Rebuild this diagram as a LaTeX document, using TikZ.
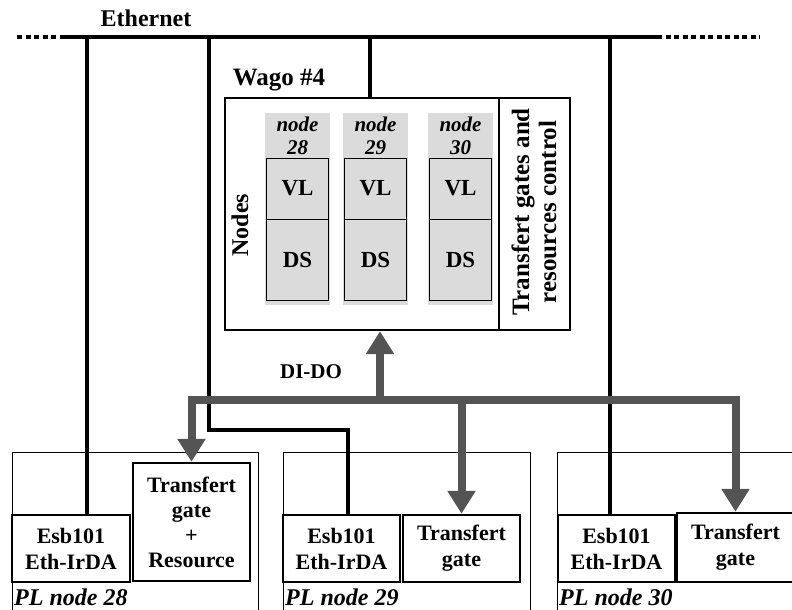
\documentclass[tikz,border=0pt]{standalone}
\usepackage{fontspec}
\setmainfont{Liberation Serif}
\usetikzlibrary{arrows.meta}

\begin{document}
\begin{tikzpicture}[x=1pt,y=-1pt,>={Triangle[width=27pt,length=23pt]},
  txt/.style={font=\fontsize{22}{26}\selectfont\bfseries},
  itx/.style={font=\fontsize{21}{23}\selectfont\bfseries\itshape},
  box/.style={draw,line width=2.5pt,txt,align=center,inner sep=0pt},
  plbox/.style={draw,line width=0.8pt},
  cell/.style={draw,line width=0.8pt,fill=gray!28,inner sep=0pt,
    font=\fontsize{23}{26}\selectfont\bfseries},
  eth/.style={line width=4.5pt},
  bus/.style={line width=8pt,draw=black!67,color=black!67}]
  \useasboundingbox (0,0) rectangle (792,610);

  % Ethernet
  \node[font=\fontsize{24}{28}\selectfont\bfseries] (ethlbl) at (146,18) {Ethernet};
  \coordinate (e0) at (17,37);
  \coordinate (e1) at (65,37);
  \coordinate (e2) at (657,37);
  \coordinate (e3) at (760,37);
  \draw[eth] (e1) -- (e2);
  \draw[eth,dash pattern=on 5pt off 3.5pt] (e0) -- (e1);
  \draw[eth,dash pattern=on 5pt off 3.5pt] (e2) -- (e3);

  % Wago #4
  \node[font=\fontsize{25}{28}\selectfont\bfseries] (wagolbl) at (279,80) {Wago \#4};
  \node[draw,line width=2.3pt,minimum width=345,minimum height=232] (wago) at (397.5,214) {};
  \coordinate (div1) at (499,98);
  \coordinate (div2) at (499,330);
  \draw[line width=2.3pt] (div1) -- (div2);
  \node[font=\fontsize{24}{26}\selectfont\bfseries,rotate=90] (nodes) at (240,225) {Nodes};
  \node[font=\fontsize{25}{27}\selectfont\bfseries,rotate=90,align=center] (ctrl) at (534,212) {Transfert gates and\\resources control};

  % node columns
  \foreach \x/\n in {297.5/28,375.5/29,460.5/30}{
    \fill[gray!28] (\x-32.5,113) rectangle (\x+32.5,305);
    \node[itx,align=center,anchor=north] (lbl\n) at (\x,113) {node\\\n};
    \node[cell,minimum width=62,minimum height=61] (vl\n) at (\x,188.5) {VL};
    \node[cell,minimum width=62,minimum height=81] (ds\n) at (\x,259.5) {DS};
  }

  % PL nodes
  \draw[plbox] (12,620) |- (258,452) -- (258,620);
  \draw[plbox] (283,620) |- (530,452) -- (530,620);
  \draw[plbox] (557,620) |- (800,452);
  \node[font=\fontsize{24}{26}\selectfont\bfseries\itshape,anchor=west,inner sep=2pt] (pl28) at (12,597) {PL node 28};
  \node[font=\fontsize{24}{26}\selectfont\bfseries\itshape,anchor=west,inner sep=2pt] (pl29) at (283,597) {PL node 29};
  \node[font=\fontsize{24}{26}\selectfont\bfseries\itshape,anchor=west,inner sep=2pt] (pl30) at (557,597) {PL node 30};

  \node[box,minimum width=118,minimum height=67] (esb28) at (71,548.5) {Esb101\\Eth-IrDA};
  \node[box,minimum width=117,minimum height=118,font=\fontsize{22}{25}\selectfont\bfseries] (tg28) at (191.5,522) {Transfert\\gate\\+\\Resource};
  \node[box,minimum width=117,minimum height=67] (esb29) at (341.5,548.5) {Esb101\\Eth-IrDA};
  \node[box,minimum width=117,minimum height=67] (tg29) at (461.5,548.5) {Transfert\\gate};
  \node[box,minimum width=117,minimum height=67] (esb30) at (616.5,548.5) {Esb101\\Eth-IrDA};
  \node[box,minimum width=117,minimum height=69] (tg30) at (735.5,547.5) {Transfert\\gate};

  % taps on the Ethernet
  \coordinate (tap28) at (87,37);
  \coordinate (tap29) at (209,37);
  \coordinate (bend29) at (348,430);
  \coordinate (tapw) at (370,37);
  \coordinate (tap30) at (610,37);
  \draw[eth] (tap28) -- (tap28 |- esb28.north);
  \draw[eth] (tap29) |- (bend29) -- (bend29 |- esb29.north);
  \draw[eth] (tapw) -- (tapw |- wago.north);
  \draw[eth] (tap30) -- (tap30 |- esb30.north);

  % DI-DO bus
  \coordinate (bus) at (380,400);
  \node[font=\fontsize{21}{24}\selectfont\bfseries] (dido) at (311,372) {DI-DO};
  \draw[bus,<->] (tg28.north) |- (bus) -| (tg30.north);
  \draw[bus,->] (tg29.north |- bus) -- (tg29.north);
  \draw[bus,->] (bus) -- (bus |- wago.south);
\end{tikzpicture}
\end{document}
